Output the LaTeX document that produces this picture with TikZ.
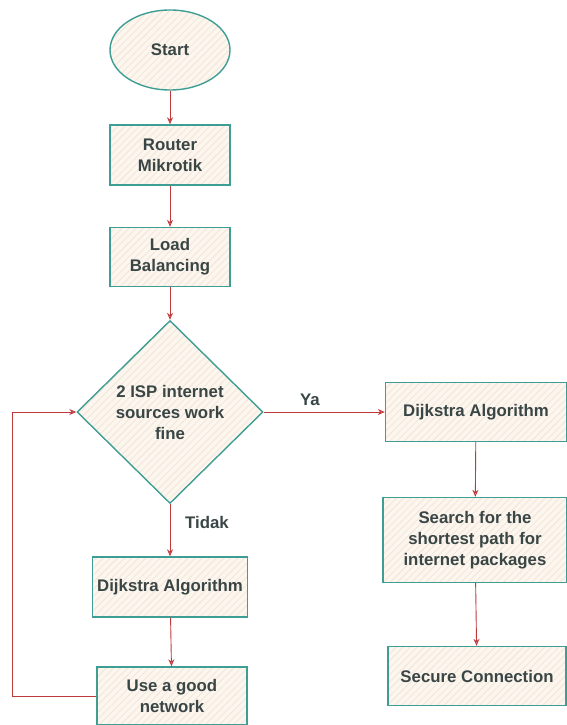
\documentclass[tikz,border=0pt]{standalone}
\usepackage{fontspec}
\setmainfont{Liberation Sans}
\usetikzlibrary{shapes.geometric,patterns.meta,arrows.meta}
\definecolor{teal1}{HTML}{3E9E93}
\definecolor{cream}{HTML}{FCF6EE}
\definecolor{hatch}{HTML}{F1E6D8}
\definecolor{arr}{HTML}{C0393B}
\definecolor{txt}{HTML}{3A4646}
\tikzset{
  shapebox/.style={draw=teal1, line width=1.4pt,
    preaction={fill=cream},
    preaction={pattern={Lines[angle=45,distance=5pt,line width=0.8pt]}, pattern color=hatch},
    text=txt, font=\bfseries\fontsize{16.8}{21}\selectfont, align=center, inner sep=2pt},
  procbox/.style={shapebox, rectangle},
  flow/.style={draw=arr, line width=0.9pt, -{Stealth[length=7pt,width=6pt,open]}},
  lbl/.style={text=txt, font=\bfseries\fontsize{16.8}{21}\selectfont}
}
\begin{document}
\begin{tikzpicture}[x=1pt,y=-1pt]
\useasboundingbox (0,0) rectangle (567,725);
\node[shapebox, ellipse, minimum width=120, minimum height=80] (start) at (170,50) {Start};
\node[procbox, minimum width=120, minimum height=60] (router) at (170,155) {Router\\Mikrotik};
\node[procbox, minimum width=120, minimum height=59] (load) at (170,257) {Load\\Balancing};
\node[shapebox, diamond, minimum width=186, minimum height=183, inner sep=0pt] (dec) at (170,412) {2 ISP internet\\sources work\\fine};
\node[procbox, minimum width=181, minimum height=59] (dya) at (476,412) {Dijkstra Algorithm};
\node[procbox, minimum width=184, minimum height=85] (search) at (475,540) {Search for the\\shortest path for\\internet packages};
\node[procbox, minimum width=178, minimum height=59] (secure) at (477,676) {Secure Connection};
\node[procbox, minimum width=155, minimum height=60] (dno) at (170,587) {Dijkstra Algorithm};
\node[procbox, minimum width=150, minimum height=58] (use) at (172,696) {Use a good\\network};
\coordinate (cb) at (12,696);
\coordinate (ct) at (12,412);
\draw[flow] (start) -- (router);
\draw[flow] (router) -- (load);
\draw[flow] (load) -- (dec);
\draw[flow] (dec.east) -- (dya.west);
\node[lbl] (ya) at (310,400) {Ya};
\draw[flow] (dya) -- (search);
\draw[flow] (search) -- (secure);
\draw[flow] (dec.south) -- (dno.north);
\node[lbl] (tidak) at (207,522) {Tidak};
\draw[flow] (dno) -- (use);
\draw[flow] (use.west) -- (cb) -- (ct) -- (dec.west);
\end{tikzpicture}
\end{document}
